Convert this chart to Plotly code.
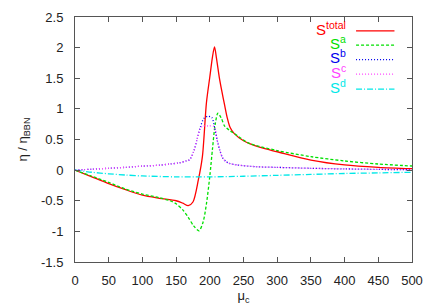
import plotly.graph_objects as go

# ---- data ----
mu_total = [0, 25, 50, 75, 100, 125, 150, 160, 168, 175, 183, 189, 195, 200, 204, 207, 210, 214, 218, 222, 226, 230, 236, 250, 275, 300, 350, 400, 450, 500]
s_total = [0, -0.11, -0.22, -0.32, -0.41, -0.46, -0.50, -0.54, -0.58, -0.52, -0.16, 0.22, 1.10, 1.52, 1.85, 2.01, 1.82, 1.52, 1.28, 1.06, 0.85, 0.70, 0.60, 0.48, 0.37, 0.30, 0.165, 0.085, 0.045, 0.023]

mu_a = [0, 25, 50, 75, 100, 125, 141, 150, 160, 168, 176, 184, 190, 195, 200, 204, 208, 212, 217, 222, 229, 236, 258, 300, 350, 400, 450, 500]
s_a = [0, -0.10, -0.20, -0.31, -0.39, -0.45, -0.50, -0.55, -0.65, -0.77, -0.91, -0.99, -0.85, -0.55, -0.10, 0.35, 0.75, 0.93, 0.85, 0.72, 0.65, 0.60, 0.44, 0.32, 0.22, 0.15, 0.10, 0.067]

mu_b = [0, 25, 50, 75, 100, 125, 141, 155, 165, 170, 176, 181, 186, 191, 197, 203, 207, 211, 215, 219, 224, 229, 240, 270, 300, 350, 400, 450, 500]
s_b = [0, 0.015, 0.03, 0.045, 0.065, 0.08, 0.10, 0.12, 0.15, 0.17, 0.30, 0.50, 0.70, 0.84, 0.88, 0.86, 0.70, 0.49, 0.32, 0.20, 0.14, 0.11, 0.085, 0.055, 0.045, 0.03, 0.02, 0.012, 0.005]

mu_c = [0, 25, 50, 75, 100, 125, 141, 155, 165, 170, 176, 181, 186, 190, 198, 205, 208, 211, 215, 219, 224, 229, 240, 270, 300, 350, 400, 450, 500]
s_c = [0, 0.015, 0.03, 0.045, 0.065, 0.08, 0.10, 0.12, 0.15, 0.17, 0.30, 0.50, 0.68, 0.72, 0.72, 0.72, 0.66, 0.49, 0.32, 0.20, 0.14, 0.11, 0.085, 0.055, 0.045, 0.03, 0.02, 0.012, 0.005]

mu_d = [0, 25, 50, 75, 100, 150, 200, 250, 300, 350, 400, 450, 500]
s_d = [0, -0.035, -0.06, -0.08, -0.095, -0.11, -0.11, -0.10, -0.085, -0.07, -0.055, -0.045, -0.035]

x_ticks = [0, 50, 100, 150, 200, 250, 300, 350, 400, 450, 500]
y_ticks = [-1.5, -1, -0.5, 0, 0.5, 1, 1.5, 2, 2.5]
y_tick_text = ["-1.5", "-1", "-0.5", "0", "0.5", "1", "1.5", "2", "2.5"]

series = [
    ("S<sup>total</sup>", mu_total, s_total, "#ff0000", "solid"),
    ("S<sup>a</sup>", mu_a, s_a, "#00e000", "3px,2px"),
    ("S<sup>b</sup>", mu_b, s_b, "#0000ee", "1px,2px"),
    ("S<sup>c</sup>", mu_c, s_c, "#ff44ff", "1px,2px"),
    ("S<sup>d</sup>", mu_d, s_d, "#00e8e8", "6px,2px,1px,2px"),
]

FONT = "Liberation Sans, Arial, sans-serif"

fig = go.Figure()
for name, xs, ys, col, dash in series:
    fig.add_trace(go.Scatter(x=xs, y=ys, mode="lines", name=name,
                             line=dict(color=col, width=1.3, dash=dash,
                                       shape="spline", smoothing=0.8),
                             showlegend=False, hoverinfo="skip"))

# custom legend (text left, sample right), paper coordinates
legend_y = [0.955, 0.897, 0.838, 0.779, 0.718]
for (name, xs, ys, col, dash), ly in zip(series, legend_y):
    fig.add_annotation(x=0.806, y=ly, xref="paper", yref="paper",
                       text=name, showarrow=False, xanchor="right", yanchor="middle",
                       borderpad=0,
                       font=dict(family=FONT, size=15, color=col))
    fig.add_shape(type="line", xref="paper", yref="paper",
                  x0=0.834, x1=0.948, y0=ly - 0.012, y1=ly - 0.012,
                  line=dict(color=col, width=1.3, dash=dash))

axis_common = dict(showline=True, linecolor="#555555", linewidth=1, mirror="ticks",
                   ticks="inside", ticklen=5, tickcolor="#555555",
                   showgrid=False, zeroline=False, automargin=False,
                   tickfont=dict(family=FONT, size=13, color="#222222"))

fig.update_layout(
    width=436, height=305,
    margin=dict(l=75, r=24, t=17, b=43),
    paper_bgcolor="white", plot_bgcolor="white",
    font=dict(family=FONT, size=13, color="#222222"),
    xaxis=dict(range=[0, 500], tickvals=x_ticks,
               title=dict(text="μ<sub>c</sub>", standoff=4, font=dict(size=13)),
               ticklabelstandoff=6, **axis_common),
    yaxis=dict(range=[-1.5, 2.5], tickvals=y_ticks, ticktext=y_tick_text,
               title=dict(text="η / η<sub>BBN</sub>", standoff=10, font=dict(size=13)),
               ticklabelstandoff=8, **axis_common),
)

fig.write_html("out.html", config={"displayModeBar": False},
               post_script="document.body.style.margin='0';document.body.style.overflow='hidden';")
